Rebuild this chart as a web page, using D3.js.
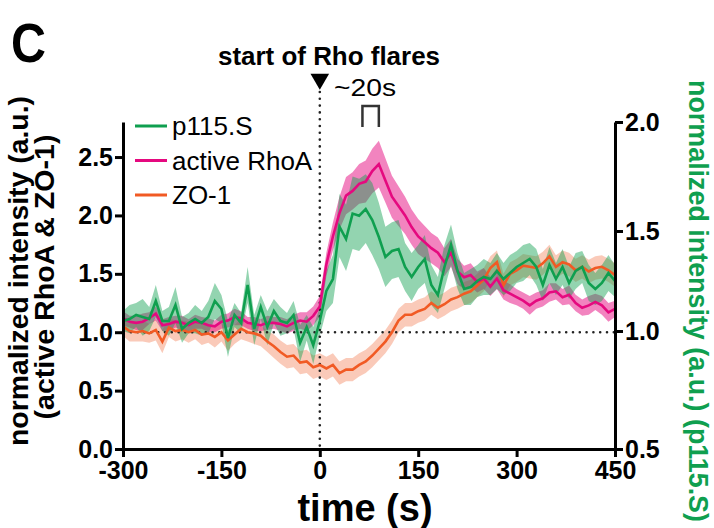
<!DOCTYPE html>
<html>
<head>
<meta charset="utf-8">
<script src="https://cdn.jsdelivr.net/npm/d3@7"></script>
<style>
  body { margin: 0; background: #fff; }
  text { font-family: "Liberation Sans", Arial, sans-serif; }
</style>
</head>
<body>
<div id="chart"></div>
<script>
// time axis (s), one sample every 10 s
const times = d3.range(-300, 451, 10);

// active RhoA, left axis
const rhoA = [1.12,1.09,1.08,1.09,1.12,1.16,1.06,1.07,1.09,1.08,1.06,1.09,1.08,1.06,1.05,1.09,1.10,1.13,1.12,1.08,
  1.07,1.06,1.08,1.08,1.07,1.05,1.08,1.10,1.09,1.14,1.22,1.58,1.82,2.02,2.17,2.21,2.27,2.29,2.38,2.44,
  2.30,2.16,2.08,2.00,1.90,1.82,1.77,1.72,1.68,1.60,1.68,1.52,1.47,1.49,1.43,1.46,1.39,1.46,1.36,1.33,
  1.30,1.27,1.23,1.27,1.29,1.34,1.35,1.30,1.32,1.25,1.21,1.23,1.26,1.23,1.17,1.20];
const rhoAErr = [0.06,0.05,0.06,0.07,0.05,0.06,0.05,0.06,0.05,0.06,0.05,0.06,0.05,0.06,0.05,0.06,0.06,0.07,0.06,0.05,
  0.06,0.05,0.06,0.05,0.06,0.06,0.07,0.07,0.08,0.08,0.09,0.10,0.12,0.14,0.16,0.16,0.17,0.18,0.19,0.20,
  0.19,0.18,0.17,0.16,0.15,0.15,0.14,0.13,0.13,0.12,0.12,0.11,0.10,0.10,0.09,0.09,0.08,0.09,0.08,0.08,
  0.07,0.07,0.08,0.07,0.07,0.08,0.07,0.07,0.08,0.07,0.07,0.08,0.07,0.08,0.08,0.07];

// p115.S, right axis
const p115 = [1.05,1.06,1.08,1.07,1.06,1.15,1.05,1.05,1.13,1.01,1.04,1.06,1.04,1.07,1.15,1.11,0.97,1.08,1.04,1.23,
  1.01,1.12,1.02,1.10,1.05,1.04,1.08,0.95,1.02,0.94,1.05,1.20,1.26,1.52,1.46,1.58,1.57,1.60,1.55,1.47,
  1.37,1.40,1.41,1.32,1.27,1.32,1.36,1.23,1.18,1.32,1.43,1.30,1.21,1.22,1.25,1.27,1.26,1.30,1.26,1.29,
  1.32,1.34,1.36,1.32,1.23,1.33,1.26,1.32,1.24,1.30,1.32,1.24,1.21,1.24,1.29,1.25];
const p115Err = [0.05,0.07,0.06,0.09,0.06,0.08,0.05,0.07,0.09,0.06,0.05,0.07,0.06,0.08,0.09,0.07,0.08,0.06,0.05,0.09,
  0.07,0.06,0.08,0.06,0.07,0.05,0.07,0.08,0.06,0.08,0.07,0.10,0.12,0.15,0.16,0.17,0.17,0.16,0.17,0.16,
  0.15,0.14,0.14,0.12,0.12,0.11,0.12,0.10,0.09,0.11,0.10,0.09,0.08,0.09,0.08,0.09,0.08,0.09,0.08,0.09,
  0.08,0.09,0.08,0.09,0.08,0.09,0.08,0.09,0.08,0.09,0.08,0.09,0.08,0.09,0.09,0.08];

// ZO-1, left axis
const zo1 = [1.05,1.01,1.00,1.01,0.99,1.02,0.92,1.04,1.01,1.02,1.00,1.02,0.98,0.99,0.96,1.00,0.93,0.98,1.03,1.00,
  0.99,0.97,0.92,0.88,0.83,0.79,0.80,0.74,0.75,0.70,0.72,0.69,0.72,0.65,0.68,0.68,0.72,0.75,0.80,0.86,
  0.92,1.00,1.10,1.15,1.15,1.18,1.20,1.25,1.21,1.24,1.28,1.30,1.33,1.35,1.40,1.45,1.55,1.60,1.40,1.50,
  1.53,1.57,1.56,1.55,1.59,1.65,1.56,1.60,1.58,1.53,1.56,1.52,1.55,1.56,1.53,1.49];
const zo1Err = [0.08,0.09,0.08,0.09,0.08,0.09,0.10,0.08,0.09,0.08,0.09,0.08,0.09,0.08,0.09,0.08,0.09,0.08,0.09,0.08,
  0.09,0.09,0.09,0.10,0.10,0.10,0.10,0.10,0.10,0.10,0.10,0.10,0.10,0.10,0.10,0.10,0.10,0.10,0.10,0.10,
  0.10,0.10,0.10,0.10,0.10,0.10,0.10,0.10,0.10,0.10,0.10,0.10,0.10,0.10,0.10,0.10,0.10,0.10,0.10,0.10,
  0.10,0.10,0.10,0.10,0.10,0.10,0.10,0.10,0.10,0.10,0.10,0.10,0.10,0.10,0.10,0.10];

const xTicks = [-300, -150, 0, 150, 300, 450];
const leftTicks = [0, 0.5, 1.0, 1.5, 2.0, 2.5];
const rightTicks = [0.5, 1.0, 1.5, 2.0];
const legendNames = ["p115.S", "active RhoA", "ZO-1"];

const W = 714, H = 528;
const colGreen = "#0f9f4f", colPink = "#e5097f", colOrange = "#f15a24";
const font = "'Liberation Sans', Arial, sans-serif";

const svg = d3.select("#chart").append("svg")
  .attr("width", W).attr("height", H);

// scales
const x = d3.scaleLinear().domain([-300, 450]).range([123, 615]);
const yL = d3.scaleLinear().domain([0, 2.8]).range([449, 122]);
// right axis as printed in the figure (ticks not evenly spaced)
const yR = d3.scaleLinear().domain([0.5, 1.0, 1.5, 2.0]).range([449, 331, 231, 122]);

function band(vals, errs, y) {
  return d3.area()
    .x((d, i) => x(times[i]))
    .y0((d, i) => y(vals[i] - errs[i]))
    .y1((d, i) => y(vals[i] + errs[i]))(vals);
}
function line(vals, y) {
  return d3.line().x((d, i) => x(times[i])).y(d => y(d))(vals);
}

// error bands
svg.append("path").attr("d", band(zo1, zo1Err, yL)).attr("fill", colOrange).attr("fill-opacity", 0.32);
svg.append("path").attr("d", band(rhoA, rhoAErr, yL)).attr("fill", colPink).attr("fill-opacity", 0.5);
svg.append("path").attr("d", band(p115, p115Err, yR)).attr("fill", colGreen).attr("fill-opacity", 0.45);

// dotted reference lines
const dots = { stroke: "#222", "stroke-width": 2.6, "stroke-dasharray": "0,6.8", "stroke-linecap": "round" };
const hRef = svg.append("line")
  .attr("x1", x(-300) + 8).attr("x2", x(450)).attr("y1", yL(1)).attr("y2", yL(1));
const vRef = svg.append("line")
  .attr("x1", x(0)).attr("x2", x(0)).attr("y1", 92).attr("y2", yL(0));
[hRef, vRef].forEach(s => Object.entries(dots).forEach(([k, v]) => s.attr(k, v)));

// mean lines
svg.append("path").attr("d", line(zo1, yL)).attr("fill", "none").attr("stroke", colOrange).attr("stroke-width", 2.6);
svg.append("path").attr("d", line(rhoA, yL)).attr("fill", "none").attr("stroke", colPink).attr("stroke-width", 2.6);
svg.append("path").attr("d", line(p115, yR)).attr("fill", "none").attr("stroke", colGreen).attr("stroke-width", 2.6);

// axes
function styleAxis(g) {
  g.select(".domain").attr("stroke", "#000").attr("stroke-width", 3);
  g.selectAll(".tick line").attr("stroke", "#000").attr("stroke-width", 3);
  g.selectAll(".tick text").attr("fill", "#000")
    .style("font-family", font).style("font-size", "25px").style("font-weight", "bold");
}
svg.append("g").attr("transform", `translate(${x(-300)},0)`)
  .call(d3.axisLeft(yL).tickValues(leftTicks).tickFormat(d3.format(".1f")).tickSize(8).tickSizeOuter(0).tickPadding(2))
  .call(styleAxis);
svg.append("g").attr("transform", `translate(0,${yL(0)})`)
  .call(d3.axisBottom(x).tickValues(xTicks).tickFormat(d => d).tickSize(8).tickSizeOuter(0).tickPadding(4))
  .call(styleAxis);
svg.append("g").attr("transform", `translate(${x(450)},0)`)
  .call(d3.axisRight(yR).tickValues(rightTicks).tickFormat(d3.format(".1f")).tickSize(8).tickSizeOuter(0).tickPadding(2))
  .call(styleAxis);

// axis titles
svg.append("text").attr("x", 365).attr("y", 521).attr("text-anchor", "middle")
  .style("font-size", "38px").style("font-weight", "bold").text("time (s)");
const yTitle = svg.append("g").attr("transform", "rotate(-90)");
yTitle.append("text").attr("x", -271).attr("y", 28).attr("text-anchor", "middle")
  .attr("textLength", 350).attr("lengthAdjust", "spacingAndGlyphs")
  .style("font-size", "27px").style("font-weight", "bold").text("normalized intensity (a.u.)");
yTitle.append("text").attr("x", -277).attr("y", 54).attr("text-anchor", "middle")
  .attr("textLength", 285).attr("lengthAdjust", "spacingAndGlyphs")
  .style("font-size", "27px").style("font-weight", "bold").text("(active RhoA & ZO-1)");
svg.append("text").attr("transform", "translate(689,301) rotate(90)")
  .attr("text-anchor", "middle").attr("fill", colGreen)
  .attr("textLength", 442).attr("lengthAdjust", "spacingAndGlyphs")
  .style("font-size", "27px").style("font-weight", "bold")
  .text("normalized intensity (a.u.) (p115.S)");

// panel letter and annotation
svg.append("text").attr("x", 11).attr("y", 62).attr("textLength", 35).attr("lengthAdjust", "spacingAndGlyphs")
  .style("font-size", "56px").style("font-weight", "bold").text("C");
svg.append("text").attr("x", 329).attr("y", 65).attr("text-anchor", "middle")
  .attr("textLength", 222).attr("lengthAdjust", "spacingAndGlyphs")
  .style("font-size", "26px").style("font-weight", "bold").text("start of Rho flares");
svg.append("path").attr("d", d3.symbol(d3.symbolTriangle, 150)())
  .attr("transform", `translate(${x(0)},79) rotate(180)`).attr("fill", "#000");
svg.append("text").attr("x", 334).attr("y", 96).attr("textLength", 62).attr("lengthAdjust", "spacingAndGlyphs")
  .style("font-size", "24px").text("~20s");
svg.append("path")
  .attr("d", `M${x(65)},127V106H${x(90)}V127`)
  .attr("fill", "none").attr("stroke", "#333").attr("stroke-width", 2.5);

// legend
const legend = svg.append("g");
const legCols = [colGreen, colPink, colOrange];
legendNames.forEach((n, i) => {
  const yy = 126 + i * 34.5;
  legend.append("line").attr("x1", 135).attr("x2", 167).attr("y1", yy).attr("y2", yy)
    .attr("stroke", legCols[i]).attr("stroke-width", 3);
  legend.append("text").attr("x", 172).attr("y", yy + 9).style("font-size", "26px").text(n);
});
</script>
</body>
</html>
